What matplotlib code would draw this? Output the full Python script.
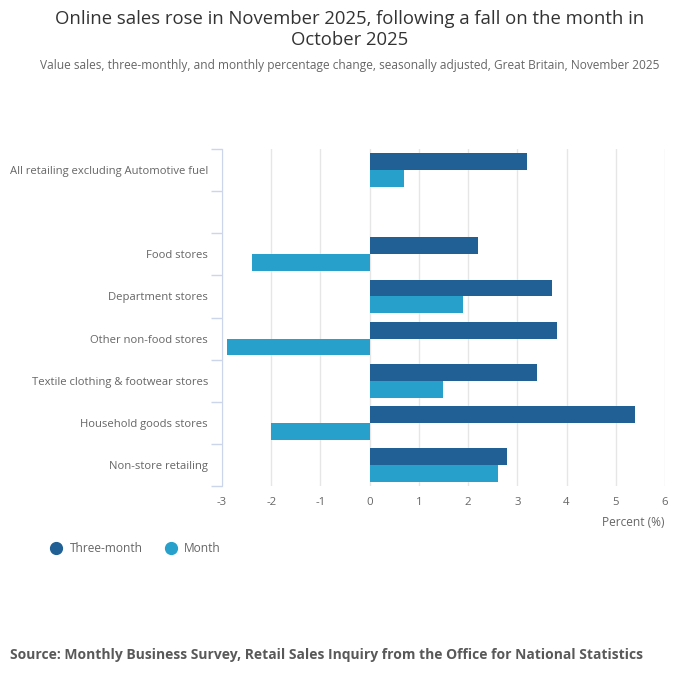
import numpy as np
import matplotlib.pyplot as plt
from matplotlib.lines import Line2D

# === Datos ===
categorias = [
    "All retailing excluding Automotive fuel",
    "",
    "Food stores",
    "Department stores",
    "Other non-food stores",
    "Textile clothing & footwear stores",
    "Household goods stores",
    "Non-store retailing",
]
tres_meses = [3.2, np.nan, 2.2, 3.7, 3.8, 3.4, 5.4, 2.8]
mes = [0.7, np.nan, -2.4, 1.9, -2.9, 1.5, -2.0, 2.6]
ticks_x = [-3, -2, -1, 0, 1, 2, 3, 4, 5, 6]

color_tres = "#206095"
color_mes = "#27a0cc"
gris = "#666666"

plt.rcParams['font.family'] = ['Open Sans', 'DejaVu Sans']

fig = plt.figure(figsize=(7, 6.82), dpi=100)
ax = fig.add_axes([222 / 700, 1 - 486 / 682, (665 - 222) / 700, (486 - 149) / 682])

y = np.arange(len(categorias))
h = 0.4
ax.barh(y - h / 2, tres_meses, height=h, color=color_tres, zorder=3)
ax.barh(y + h / 2, mes, height=h, color=color_mes, zorder=3)

ax.set_ylim(len(categorias) - 0.5, -0.5)
ax.set_xlim(-3, 6)
ax.set_xticks(ticks_x)
ax.set_xticklabels([str(t) for t in ticks_x])
ax.set_yticks(y)
ax.set_yticklabels(categorias)
ax.set_yticks(np.arange(len(categorias) + 1) - 0.5, minor=True)

ax.tick_params(axis='y', which='major', length=0, pad=10, labelsize=8.1, labelcolor=gris)
ax.tick_params(axis='y', which='minor', length=8, color="#ccd6eb", width=1)
ax.tick_params(axis='x', length=0, pad=8, labelsize=8.2, labelcolor=gris)

ax.grid(axis='x', color="#e6e6e6", linewidth=1, zorder=0)
for lado in ['top', 'right', 'bottom']:
    ax.spines[lado].set_visible(False)
ax.spines['left'].set_color("#ccd6eb")

ax.set_xlabel("Percent (%)", fontsize=8.6, color=gris, loc='right', labelpad=6)

# === Titulos ===
fig.text(0.5, 1 - 29.5 / 682, "Online sales rose in November 2025, following a fall on the month in\nOctober 2025",
         ha='center', va='center', fontsize=13.3, color="#333333", linespacing=1.15)
fig.text(0.5, 1 - 65 / 682,
         "Value sales, three-monthly, and monthly percentage change, seasonally adjusted, Great Britain, November 2025",
         ha='center', va='center', fontsize=8.6, color=gris)

# === Leyenda ===
handles = [
    Line2D([], [], marker='o', linestyle='none', markersize=8.5, color=color_tres),
    Line2D([], [], marker='o', linestyle='none', markersize=8.5, color=color_mes),
]
fig.legend(handles, ["Three-month", "Month"], loc='center left',
           bbox_to_anchor=(36 / 700, 1 - 549 / 682), ncol=2, frameon=False,
           fontsize=8.6, labelcolor=gris, handletextpad=0.4, columnspacing=1.6,
           handlelength=1.5)

fig.text(10 / 700, 1 - 655 / 682,
         "Source: Monthly Business Survey, Retail Sales Inquiry from the Office for National Statistics",
         ha='left', va='center', fontsize=10.0, fontweight='bold', color="#595959")

fig.savefig("out.png", dpi=100)
